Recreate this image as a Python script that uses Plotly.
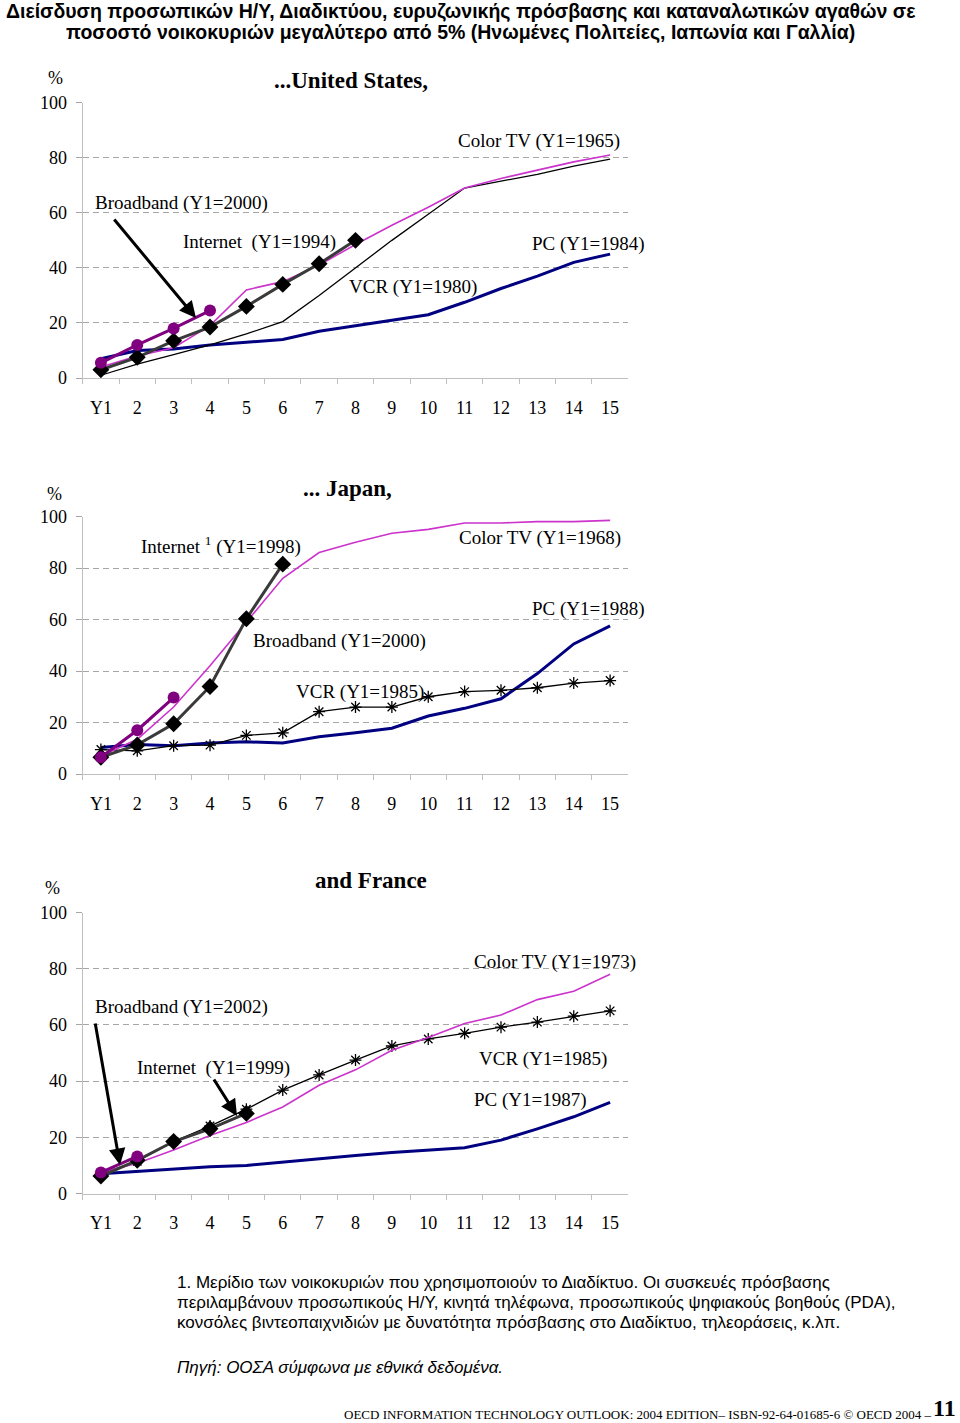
import plotly.graph_objects as go

W, H = 960, 1423

# ---------------- data ----------------
cats = ["Y1", "2", "3", "4", "5", "6", "7", "8", "9", "10", "11", "12", "13", "14", "15"]

# United States
us_color_tv = [4, 8, 11, 19, 32, 35, 41, 48.5, 55.5, 62, 69, 72.5, 75.5, 78.5, 81]
us_vcr = [1, 5, 8.5, 12, 16, 20.5, 30, 40, 50, 59.5, 69, 71.5, 74, 77, 79.5]
us_pc = [7, 10, 10.5, 12, 13, 14, 17, 19, 21, 23, 27.5, 32.5, 37, 42, 45]
us_internet = [3, 7.5, 13.5, 18.5, 26, 34, 41.5, 50]
us_broadband = [5.5, 12, 18, 24.5]

# Japan
jp_color_tv = [7, 13.5, 26, 42, 59, 76, 86, 90, 93.5, 95, 97.5, 97.5, 98, 98, 98.5]
jp_vcr = [9.5, 9, 11, 11.2, 15, 16, 24.2, 26, 26, 30, 32, 32.5, 33.5, 35.3, 36.3]
jp_pc = [10.3, 11.5, 11, 12, 12.5, 12, 14.5, 16, 17.8, 22.5, 25.5, 29.2, 39, 50.5, 57.5]
jp_internet = [6.5, 11.3, 19.5, 34, 60.3, 81.5]
jp_broadband = [6.5, 17, 29.7]

# France
fr_color_tv = [7.5, 10.8, 15.5, 20.6, 25.3, 30.8, 38.5, 44, 51, 55.5, 60.5, 63.5, 69, 72, 78]
fr_vcr = [7, 11.5, 18.5, 24, 30, 36.8, 42.2, 47.5, 52.5, 55, 57, 59.2, 61, 63.1, 65]
fr_pc = [7, 7.8, 8.5, 9.5, 10, 11.2, 12.5, 13.5, 14.6, 15.4, 16.3, 19, 23, 27.3, 32.4]
fr_internet = [6.2, 11.8, 18.5, 23, 28.5]
fr_broadband = [7.5, 13.2]

y_ticks = [0, 20, 40, 60, 80, 100]

# ---------------- styles ----------------
SERIF = "Liberation Serif, Times New Roman, serif"
NARROW = "Liberation Sans Narrow, Arial Narrow, Liberation Sans, Arial, sans-serif"
C_TV = "#CC33CC"
C_PC = "#000080"
C_INT = "#3A3A3A"
C_BB = "#800080"
GRID = "#A6A6A6"
AXIS = "#BFBFBF"


def py(p):
    return 1 - p / H


def px(p):
    return p / W


# panel pixel boxes: (top, bottom)
panels = [(102.7, 378.0), (516.5, 774.0), (912.5, 1193.5)]
x_left, x_right = 82.7, 628.3

fig = go.Figure()


def add_panel(idx, tv, vcr, pc, inet, bb, vcr_markers):
    xa = "x" if idx == 1 else f"x{idx}"
    ya = "y" if idx == 1 else f"y{idx}"
    fig.add_trace(go.Scatter(x=cats[:len(pc)], y=pc, mode="lines",
                             line=dict(color=C_PC, width=3), xaxis=xa, yaxis=ya))
    fig.add_trace(go.Scatter(x=cats[:len(vcr)], y=vcr,
                             mode="lines+markers" if vcr_markers else "lines",
                             line=dict(color="black", width=1.3),
                             marker=dict(symbol="asterisk-open", size=10,
                                         line=dict(color="black", width=1.3)),
                             xaxis=xa, yaxis=ya))
    fig.add_trace(go.Scatter(x=cats[:len(tv)], y=tv, mode="lines",
                             line=dict(color=C_TV, width=1.6), xaxis=xa, yaxis=ya))
    fig.add_trace(go.Scatter(x=cats[:len(inet)], y=inet, mode="lines+markers",
                             line=dict(color=C_INT, width=3),
                             marker=dict(symbol="diamond", size=13, color="black"),
                             xaxis=xa, yaxis=ya))
    fig.add_trace(go.Scatter(x=cats[:len(bb)], y=bb, mode="lines+markers",
                             line=dict(color=C_BB, width=3),
                             marker=dict(symbol="circle", size=12, color=C_BB),
                             xaxis=xa, yaxis=ya))


add_panel(1, us_color_tv, us_vcr, us_pc, us_internet, us_broadband, False)
add_panel(2, jp_color_tv, jp_vcr, jp_pc, jp_internet, jp_broadband, True)
add_panel(3, fr_color_tv, fr_vcr, fr_pc, fr_internet, fr_broadband, True)

layout = dict(width=W, height=H, autosize=False, margin=dict(l=0, r=0, t=0, b=0, pad=0),
              paper_bgcolor="white", plot_bgcolor="white", showlegend=False)

for i, (top, bot) in enumerate(panels, start=1):
    sx = "xaxis" if i == 1 else f"xaxis{i}"
    sy = "yaxis" if i == 1 else f"yaxis{i}"
    layout[sx] = dict(domain=[px(x_left), px(x_right)], type="category",
                      categoryorder="array", categoryarray=cats, automargin=False,
                      range=[-0.5, 14.5], tickson="boundaries", ticks="outside",
                      ticklen=5, tickcolor=AXIS, showline=True, linecolor=AXIS,
                      linewidth=1, showgrid=False, zeroline=False,
                      tickfont=dict(family=SERIF, size=18, color="black"),
                      ticklabelstandoff=13,
                      anchor="y" if i == 1 else f"y{i}")
    layout[sy] = dict(domain=[py(bot), py(top)], range=[0, 100], tickvals=y_ticks,
                      automargin=False,
                      showgrid=True, gridcolor=GRID, griddash="6px,4px", gridwidth=1,
                      ticks="outside", ticklen=6, tickcolor=GRID, showline=True,
                      linecolor=AXIS, linewidth=1, zeroline=False,
                      tickfont=dict(family=SERIF, size=18, color="black"),
                      ticklabelstandoff=5,
                      anchor="x" if i == 1 else f"x{i}")

fig.update_layout(**layout)

ann = []


def label(text, xl, yc, size=19, anchor="left", bold=False, family=SERIF, italic=False):
    t = text
    if bold:
        t = f"<b>{t}</b>"
    if italic:
        t = f"<i>{t}</i>"
    ann.append(dict(text=t, x=px(xl), y=py(yc), xref="paper", yref="paper",
                    xanchor=anchor, yanchor="middle", showarrow=False,
                    font=dict(family=family, size=size, color="black")))


def arrow(x0, y0, x1, y1):
    ann.append(dict(text="", x=px(x1), y=py(y1), xref="paper", yref="paper",
                    ax=x0 - x1, ay=y0 - y1, showarrow=True, arrowhead=2,
                    arrowsize=1.1, arrowwidth=3, arrowcolor="black"))


# main title
label("Διείσδυση προσωπικών Η/Υ, Διαδικτύου, ευρυζωνικής πρόσβασης και καταναλωτικών αγαθών σε",
      460, 11, size=19.5, anchor="center", bold=True, family=NARROW)
label("ποσοστό νοικοκυριών μεγαλύτερο από 5% (Ηνωμένες Πολιτείες, Ιαπωνία και Γαλλία)",
      460, 32, size=19.5, anchor="center", bold=True, family=NARROW)

# panel 1
label("%", 55, 78, size=18, anchor="center")
label("...United States,", 351, 81, size=23, anchor="center", bold=True)
label("Color TV (Y1=1965)", 456, 141)
label("Broadband (Y1=2000)", 93, 203)
label("Internet  (Y1=1994)", 181, 242)
label("PC (Y1=1984)", 530, 244)
label("VCR (Y1=1980)", 347, 287)
arrow(113, 218, 196, 318)

# panel 2
label("%", 54, 494, size=18, anchor="center")
label("... Japan,", 347, 488, size=23, anchor="center", bold=True)
label("Internet <sup>1</sup> (Y1=1998)", 139, 545)
label("Color TV (Y1=1968)", 457, 538)
label("PC (Y1=1988)", 530, 609)
label("Broadband (Y1=2000)", 251, 641)
label("VCR (Y1=1985)", 294, 692)

# panel 3
label("%", 52, 888, size=18, anchor="center")
label("and France", 371, 881, size=23, anchor="center", bold=True)
label("Color TV (Y1=1973)", 472, 962)
label("Broadband (Y1=2002)", 93, 1007)
label("Internet  (Y1=1999)", 135, 1068)
label("VCR (Y1=1985)", 477, 1059)
label("PC (Y1=1987)", 472, 1100)
arrow(95, 1022, 120, 1165)
arrow(213, 1078, 237, 1116)

# footnotes
label("1. Μερίδιο των νοικοκυριών που χρησιμοποιούν το Διαδίκτυο. Οι συσκευές πρόσβασης",
      175, 1282, size=17, family=NARROW)
label("περιλαμβάνουν προσωπικούς Η/Υ, κινητά τηλέφωνα, προσωπικούς ψηφιακούς βοηθούς (PDA),",
      175, 1302, size=17, family=NARROW)
label("κονσόλες βιντεοπαιχνιδιών με δυνατότητα πρόσβασης στο Διαδίκτυο, τηλεοράσεις, κ.λπ.",
      175, 1322, size=17, family=NARROW)
label("Πηγή: ΟΟΣΑ σύμφωνα με εθνικά δεδομένα.", 175, 1367, size=17, family=NARROW, italic=True)

# page footer
label("OECD INFORMATION TECHNOLOGY OUTLOOK: 2004 EDITION– ISBN-92-64-01685-6 © OECD 2004 –",
      342, 1414, size=13)
label("11", 958, 1408, size=24, anchor="right", bold=True)

fig.update_layout(annotations=ann)
fig.write_html("out.html")
